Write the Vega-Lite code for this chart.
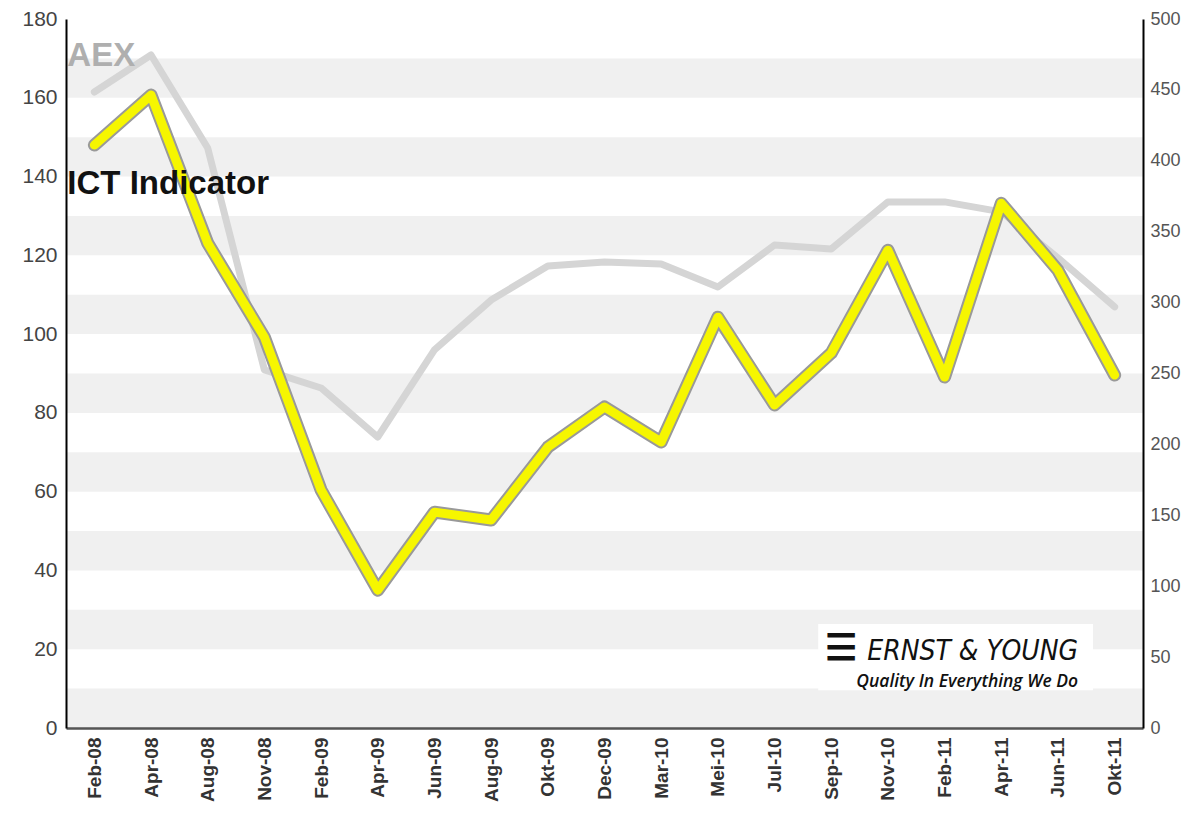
{
  "$schema": "https://vega.github.io/schema/vega-lite/v6.json",
  "width": 1077,
  "height": 709,
  "autosize": {"type": "none"},
  "padding": {"left": 66, "top": 19, "right": 55, "bottom": 90},
  "background": "white",
  "config": {"view": {"stroke": null}, "font": "Liberation Sans"},
  "datasets": {
    "main": [
      {"month": "Feb-08", "ict": 148.0, "aex": 448.5},
      {"month": "Apr-08", "ict": 160.7, "aex": 474.6},
      {"month": "Aug-08", "ict": 123.1, "aex": 409.0},
      {"month": "Nov-08", "ict": 99.2, "aex": 252.5},
      {"month": "Feb-09", "ict": 60.4, "aex": 239.8},
      {"month": "Apr-09", "ict": 35.0, "aex": 205.2},
      {"month": "Jun-09", "ict": 54.8, "aex": 266.6},
      {"month": "Aug-09", "ict": 52.8, "aex": 301.8},
      {"month": "Okt-09", "ict": 71.3, "aex": 325.8},
      {"month": "Dec-09", "ict": 81.5, "aex": 328.6},
      {"month": "Mar-10", "ict": 72.6, "aex": 327.2},
      {"month": "Mei-10", "ict": 104.3, "aex": 311.0},
      {"month": "Jul-10", "ict": 82.0, "aex": 340.6},
      {"month": "Sep-10", "ict": 95.2, "aex": 337.8},
      {"month": "Nov-10", "ict": 121.3, "aex": 371.0},
      {"month": "Feb-11", "ict": 89.1, "aex": 371.0},
      {"month": "Apr-11", "ict": 133.2, "aex": 364.0},
      {"month": "Jun-11", "ict": 116.2, "aex": 331.5},
      {"month": "Okt-11", "ict": 89.6, "aex": 297.0}
    ],
    "bands": [
      {"lo": 0, "hi": 10}, {"lo": 20, "hi": 30}, {"lo": 40, "hi": 50},
      {"lo": 60, "hi": 70}, {"lo": 80, "hi": 90}, {"lo": 100, "hi": 110},
      {"lo": 120, "hi": 130}, {"lo": 140, "hi": 150}, {"lo": 160, "hi": 170}
    ],
    "one": [{}]
  },
  "layer": [
    {
      "data": {"name": "bands"},
      "mark": {"type": "rect", "color": "#f0f0f0"},
      "encoding": {
        "y": {"field": "lo", "type": "quantitative",
          "scale": {"domain": [0, 180], "nice": false},
          "axis": {"orient": "left", "zindex": 1, "values": [0,20,40,60,80,100,120,140,160,180], "grid": false,
            "domainColor": "#000", "domainWidth": 2, "ticks": false, "tickSize": 0,
            "labelFontSize": 21, "labelColor": "#444", "labelPadding": 9, "title": null}},
        "y2": {"field": "hi"}
      }
    },
    {
      "data": {"name": "main"},
      "mark": {"type": "line", "color": "#d5d5d5", "strokeWidth": 7, "strokeJoin": "round", "strokeCap": "round"},
      "encoding": {
        "x": {"field": "month", "type": "nominal",
          "scale": {"type": "point", "padding": 0.5,
            "domain": ["Feb-08","Apr-08","Aug-08","Nov-08","Feb-09","Apr-09","Jun-09","Aug-09","Okt-09","Dec-09","Mar-10","Mei-10","Jul-10","Sep-10","Nov-10","Feb-11","Apr-11","Jun-11","Okt-11"]},
          "axis": {"orient": "bottom", "zindex": 1, "labelAngle": 270, "labelFontSize": 19, "labelFontWeight": "bold",
            "labelColor": "#333", "labelPadding": 9, "ticks": false, "tickSize": 0,
            "domainColor": "#555", "domainWidth": 2.5, "grid": false, "title": null}},
        "y": {"field": "aex", "type": "quantitative",
          "scale": {"domain": [0, 500], "nice": false},
          "axis": {"orient": "right", "zindex": 1, "values": [0,50,100,150,200,250,300,350,400,450,500], "grid": false,
            "domainColor": "#000", "domainWidth": 2, "ticks": false, "tickSize": 0,
            "labelFontSize": 18, "labelColor": "#555", "labelPadding": 7, "title": null}}
      }
    },
    {
      "data": {"name": "main"},
      "mark": {"type": "line", "color": "#999999", "strokeWidth": 13, "strokeJoin": "round", "strokeCap": "round"},
      "encoding": {
        "x": {"field": "month", "type": "nominal"},
        "y": {"field": "ict", "type": "quantitative", "scale": {"domain": [0, 180], "nice": false}, "axis": null}
      }
    },
    {
      "data": {"name": "main"},
      "mark": {"type": "line", "color": "#f6f600", "strokeWidth": 9, "strokeJoin": "round", "strokeCap": "round"},
      "encoding": {
        "x": {"field": "month", "type": "nominal"},
        "y": {"field": "ict", "type": "quantitative", "scale": {"domain": [0, 180], "nice": false}, "axis": null}
      }
    },
    {
      "data": {"name": "one"},
      "mark": {"type": "text", "text": "AEX", "color": "#afafaf", "fontSize": 33, "fontWeight": "bold", "align": "left", "baseline": "middle", "dx": -27},
      "encoding": {
        "x": {"datum": "Feb-08", "type": "nominal"},
        "y": {"datum": 170.6, "type": "quantitative", "scale": {"domain": [0, 180], "nice": false}, "axis": null}
      }
    },
    {
      "data": {"name": "one"},
      "mark": {"type": "text", "text": "ICT Indicator", "color": "#111111", "fontSize": 33, "fontWeight": "bold", "align": "left", "baseline": "middle", "dx": -27},
      "encoding": {
        "x": {"datum": "Feb-08", "type": "nominal"},
        "y": {"datum": 138, "type": "quantitative", "scale": {"domain": [0, 180], "nice": false}, "axis": null}
      }
    },
    {
      "data": {"name": "one"},
      "mark": {"type": "rect", "color": "#ffffff", "xOffset": -13, "x2Offset": 35},
      "encoding": {
        "x": {"datum": "Sep-10", "type": "nominal"},
        "x2": {"datum": "Jun-11"},
        "y": {"datum": 26.4, "type": "quantitative", "scale": {"domain": [0, 180], "nice": false}, "axis": null},
        "y2": {"datum": 9.6}
      }
    },
    {
      "data": {"name": "one"},
      "mark": {"type": "text", "text": "☰", "color": "#111111", "fontSize": 36, "fontWeight": "bold", "align": "left", "baseline": "alphabetic", "dx": -6},
      "encoding": {
        "x": {"datum": "Sep-10", "type": "nominal"},
        "y": {"datum": 17.3, "type": "quantitative", "scale": {"domain": [0, 180], "nice": false}, "axis": null}
      }
    },
    {
      "data": {"name": "one"},
      "mark": {"type": "text", "text": "ERNST & YOUNG", "font": "DejaVu Sans Condensed", "fontStyle": "italic", "color": "#111111", "fontSize": 28, "align": "left", "baseline": "alphabetic", "dx": 36},
      "encoding": {
        "x": {"datum": "Sep-10", "type": "nominal"},
        "y": {"datum": 17.3, "type": "quantitative", "scale": {"domain": [0, 180], "nice": false}, "axis": null}
      }
    },
    {
      "data": {"name": "one"},
      "mark": {"type": "text", "text": "Quality In Everything We Do", "font": "Open Sans", "fontStyle": "italic", "fontWeight": 600, "color": "#111111", "fontSize": 17.5, "align": "left", "baseline": "alphabetic", "dx": 25},
      "encoding": {
        "x": {"datum": "Sep-10", "type": "nominal"},
        "y": {"datum": 10.4, "type": "quantitative", "scale": {"domain": [0, 180], "nice": false}, "axis": null}
      }
    }
  ],
  "resolve": {"scale": {"y": "independent"}, "axis": {"y": "independent"}}
}
